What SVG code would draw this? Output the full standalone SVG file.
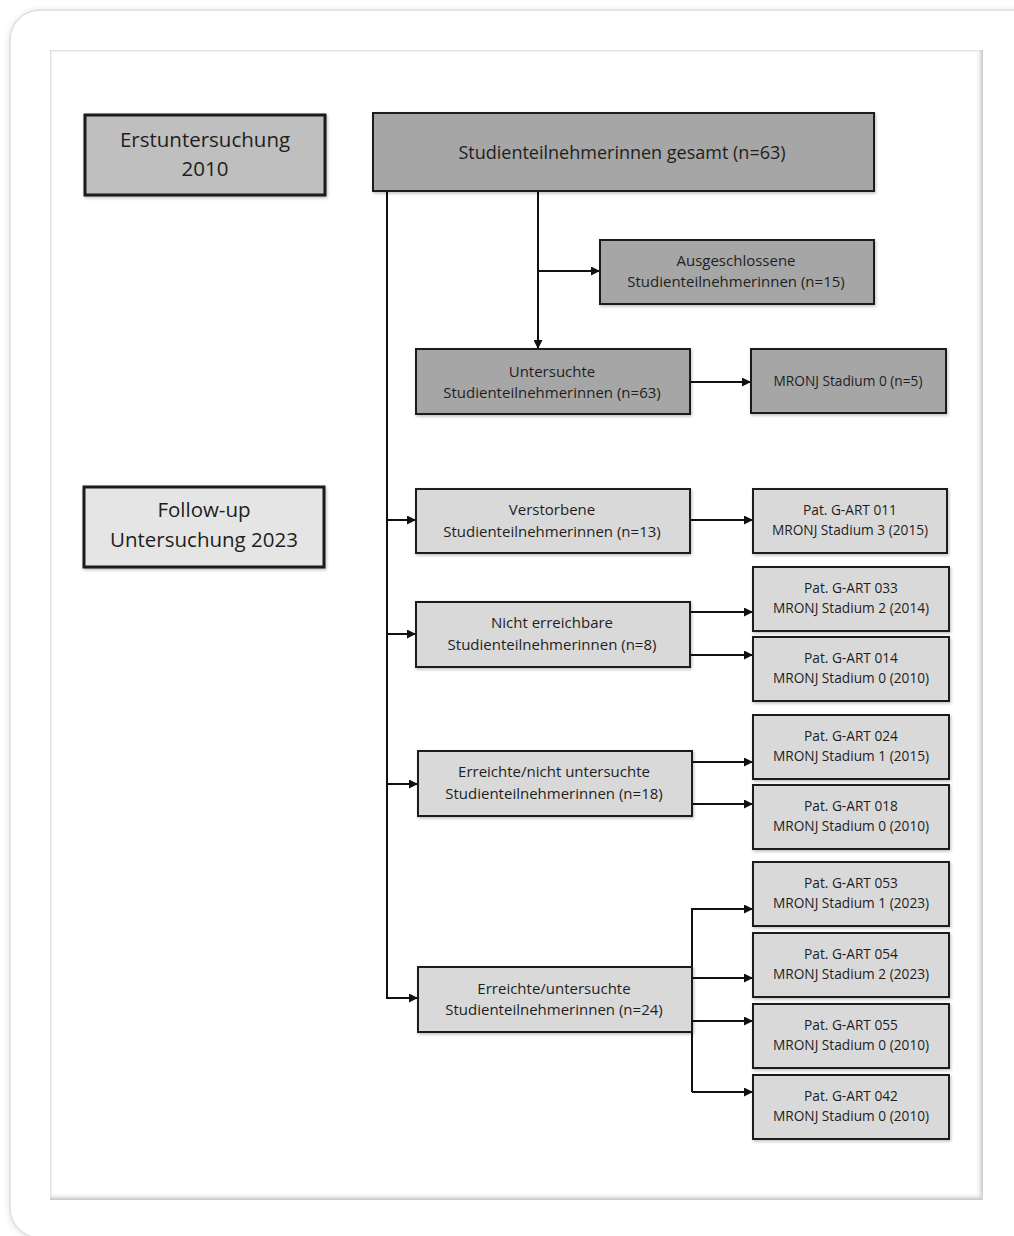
<svg xmlns="http://www.w3.org/2000/svg" width="1014" height="1236" viewBox="0 0 1014 1236">
<defs>
<filter id="cardsh" x="-5%" y="-5%" width="110%" height="110%">
<feDropShadow dx="0" dy="1" stdDeviation="3" flood-color="#000" flood-opacity="0.12"/>
</filter>
<filter id="boxsh" x="-10%" y="-10%" width="120%" height="130%">
<feDropShadow dx="1" dy="1.5" stdDeviation="1.5" flood-color="#000" flood-opacity="0.25"/>
</filter>
<linearGradient id="gr" x1="0" y1="0" x2="1" y2="0">
<stop offset="0" stop-color="#ffffff" stop-opacity="0"/>
<stop offset="1" stop-color="#c4c4c4"/>
</linearGradient>
<linearGradient id="gb" x1="0" y1="0" x2="0" y2="1">
<stop offset="0" stop-color="#ffffff" stop-opacity="0"/>
<stop offset="1" stop-color="#c4c4c4"/>
</linearGradient>
<linearGradient id="gt" x1="0" y1="0" x2="0" y2="1">
<stop offset="0" stop-color="#d0d0d0"/>
<stop offset="1" stop-color="#ffffff" stop-opacity="0"/>
</linearGradient>
<linearGradient id="gl" x1="0" y1="0" x2="1" y2="0">
<stop offset="0" stop-color="#d0d0d0"/>
<stop offset="1" stop-color="#ffffff" stop-opacity="0"/>
</linearGradient>
<marker id="arr" viewBox="0 0 10 10" refX="10" refY="5" markerWidth="9" markerHeight="9" markerUnits="userSpaceOnUse" orient="auto">
<path d="M0,0 L10,5 L0,10 z" fill="#111"/>
</marker>
<style>
.box{stroke:#1a1a1a;stroke-width:2;filter:url(#boxsh)}
.dark{fill:#a6a6a6}
.mid{fill:#bfbfbf}
.light{fill:#d9d9d9}
.pale{fill:#e5e5e5}
.thick{stroke-width:3}
text{font-family:"Open Sans","Noto Sans","DejaVu Sans",sans-serif;fill:#1e1e1e;text-anchor:middle}
.t19{font-size:20.5px}
.t17{font-size:18px}
.t14{font-size:15px}
.t13{font-size:13.7px}
.con{fill:none;stroke:#111;stroke-width:2}
</style>
</defs>
<rect x="0" y="0" width="1014" height="1236" fill="#ffffff"/>
<rect x="10" y="10" width="1040" height="1228" rx="30" fill="#ffffff" stroke="#dedede" stroke-width="1.5" filter="url(#cardsh)"/>
<rect x="50" y="50" width="933" height="1150" fill="#ffffff"/>
<rect x="50" y="50" width="933" height="3" fill="url(#gt)"/>
<rect x="50" y="50" width="3" height="1150" fill="url(#gl)"/>
<rect x="975" y="50" width="8" height="1150" fill="url(#gr)"/>
<rect x="50" y="1192" width="933" height="8" fill="url(#gb)"/>

<g id="connectors">
<path class="con" d="M387,191 V998 H418" marker-end="url(#arr)"/>
<path class="con" d="M387,520 H416" marker-end="url(#arr)"/>
<path class="con" d="M387,634 H416" marker-end="url(#arr)"/>
<path class="con" d="M387,784 H418" marker-end="url(#arr)"/>
<path class="con" d="M538,191 V349" marker-end="url(#arr)"/>
<path class="con" d="M538,271 H600" marker-end="url(#arr)"/>
<path class="con" d="M690,382 H751" marker-end="url(#arr)"/>
<path class="con" d="M690,520 H753" marker-end="url(#arr)"/>
<path class="con" d="M690,612 H753" marker-end="url(#arr)"/>
<path class="con" d="M690,655 H753" marker-end="url(#arr)"/>
<path class="con" d="M692,762 H753" marker-end="url(#arr)"/>
<path class="con" d="M692,804 H753" marker-end="url(#arr)"/>
<path class="con" d="M692,1092 V909 H753" marker-end="url(#arr)"/>
<path class="con" d="M692,978 H753" marker-end="url(#arr)"/>
<path class="con" d="M692,1021 H753" marker-end="url(#arr)"/>
<path class="con" d="M692,1092 H753" marker-end="url(#arr)"/>
</g>

<g id="erstuntersuchung">
<rect class="box mid thick" x="85" y="115" width="240" height="80"/>
<text class="t19" x="205" y="147">Erstuntersuchung</text>
<text class="t19" x="205" y="176">2010</text>
</g>
<g id="followup">
<rect class="box pale thick" x="84" y="487" width="240" height="80"/>
<text class="t19" x="204" y="517">Follow-up</text>
<text class="t19" x="204" y="547">Untersuchung 2023</text>
</g>
<g id="gesamt">
<rect class="box dark" x="373" y="113" width="501" height="78"/>
<text class="t17" x="622" y="159">Studienteilnehmerinnen gesamt (n=63)</text>
</g>
<g id="ausgeschlossen">
<rect class="box dark" x="600" y="240" width="274" height="64"/>
<text class="t14" x="736" y="266">Ausgeschlossene</text>
<text class="t14" x="736" y="287">Studienteilnehmerinnen (n=15)</text>
</g>
<g id="untersucht">
<rect class="box dark" x="416" y="349" width="274" height="65"/>
<text class="t14" x="552" y="377">Untersuchte</text>
<text class="t14" x="552" y="398">Studienteilnehmerinnen (n=63)</text>
</g>
<g id="mronj0">
<rect class="box dark" x="751" y="349" width="195" height="64"/>
<text class="t13" x="848" y="386">MRONJ Stadium 0 (n=5)</text>
</g>
<g id="verstorben">
<rect class="box light" x="416" y="489" width="274" height="64"/>
<text class="t14" x="552" y="515">Verstorbene</text>
<text class="t14" x="552" y="537">Studienteilnehmerinnen (n=13)</text>
</g>
<g id="pat011">
<rect class="box light" x="753" y="489" width="194" height="64"/>
<text class="t13" x="850" y="515">Pat. G-ART 011</text>
<text class="t13" x="850" y="535">MRONJ Stadium 3 (2015)</text>
</g>
<g id="nichterreichbar">
<rect class="box light" x="416" y="602" width="274" height="65"/>
<text class="t14" x="552" y="628">Nicht erreichbare</text>
<text class="t14" x="552" y="650">Studienteilnehmerinnen (n=8)</text>
</g>
<g id="pat033">
<rect class="box light" x="753" y="567" width="196" height="64"/>
<text class="t13" x="851" y="593">Pat. G-ART 033</text>
<text class="t13" x="851" y="613">MRONJ Stadium 2 (2014)</text>
</g>
<g id="pat014">
<rect class="box light" x="753" y="637" width="196" height="64"/>
<text class="t13" x="851" y="663">Pat. G-ART 014</text>
<text class="t13" x="851" y="683">MRONJ Stadium 0 (2010)</text>
</g>
<g id="erreichtnicht">
<rect class="box light" x="418" y="751" width="274" height="65"/>
<text class="t14" x="554" y="777">Erreichte/nicht untersuchte</text>
<text class="t14" x="554" y="799">Studienteilnehmerinnen (n=18)</text>
</g>
<g id="pat024">
<rect class="box light" x="753" y="715" width="196" height="64"/>
<text class="t13" x="851" y="741">Pat. G-ART 024</text>
<text class="t13" x="851" y="761">MRONJ Stadium 1 (2015)</text>
</g>
<g id="pat018">
<rect class="box light" x="753" y="785" width="196" height="64"/>
<text class="t13" x="851" y="811">Pat. G-ART 018</text>
<text class="t13" x="851" y="831">MRONJ Stadium 0 (2010)</text>
</g>
<g id="erreichtuntersucht">
<rect class="box light" x="418" y="967" width="274" height="65"/>
<text class="t14" x="554" y="994">Erreichte/untersuchte</text>
<text class="t14" x="554" y="1015">Studienteilnehmerinnen (n=24)</text>
</g>
<g id="pat053">
<rect class="box light" x="753" y="862" width="196" height="64"/>
<text class="t13" x="851" y="888">Pat. G-ART 053</text>
<text class="t13" x="851" y="908">MRONJ Stadium 1 (2023)</text>
</g>
<g id="pat054">
<rect class="box light" x="753" y="933" width="196" height="64"/>
<text class="t13" x="851" y="959">Pat. G-ART 054</text>
<text class="t13" x="851" y="979">MRONJ Stadium 2 (2023)</text>
</g>
<g id="pat055">
<rect class="box light" x="753" y="1004" width="196" height="64"/>
<text class="t13" x="851" y="1030">Pat. G-ART 055</text>
<text class="t13" x="851" y="1050">MRONJ Stadium 0 (2010)</text>
</g>
<g id="pat042">
<rect class="box light" x="753" y="1075" width="196" height="64"/>
<text class="t13" x="851" y="1101">Pat. G-ART 042</text>
<text class="t13" x="851" y="1121">MRONJ Stadium 0 (2010)</text>
</g>
</svg>
